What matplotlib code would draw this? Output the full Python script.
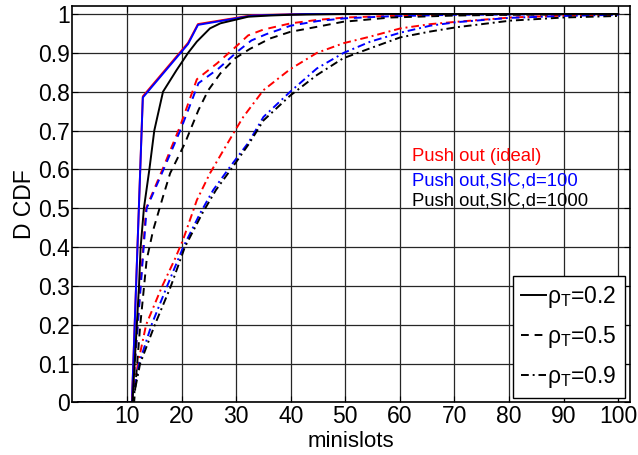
import matplotlib
matplotlib.use("Agg")
import matplotlib.pyplot as plt

plt.rcParams['font.family'] = ['Liberation Sans', 'DejaVu Sans']
plt.rcParams['mathtext.fontset'] = 'custom'
plt.rcParams['mathtext.rm'] = 'Liberation Sans'
plt.rcParams['mathtext.it'] = 'Liberation Sans'

# rho_T = 0.2 (solid)
x_ideal_02 = [1, 10.9, 12.9, 21.2, 23, 33, 43, 100]
y_ideal_02 = [0, 0, 0.788, 0.926, 0.974, 0.997, 1, 1]
x_d100_02 = [1, 10.9, 12.9, 21.2, 23, 33, 43, 100]
y_d100_02 = [0, 0, 0.785, 0.923, 0.972, 0.996, 1, 1]
x_d1000_02 = [1, 11.0, 12.2, 12.5, 13.1, 14.1, 15, 16.6, 19.1, 21.2, 22.8, 25.2, 27.1, 29.8, 32.2, 36, 40, 50, 100]
y_d1000_02 = [0, 0, 0.3, 0.4, 0.5, 0.6, 0.7, 0.8, 0.856, 0.9, 0.929, 0.963, 0.976, 0.985, 0.993, 0.996, 0.998, 1, 1]

# rho_T = 0.5 (dashed)
x_ideal_05 = [1, 10.9, 13.5, 16.5, 19.7, 22.8, 26.5, 29.8, 32.2, 35, 40, 45, 50, 58, 70, 100]
y_ideal_05 = [0, 0, 0.5, 0.6, 0.71, 0.832, 0.873, 0.914, 0.945, 0.96, 0.976, 0.985, 0.991, 0.995, 0.999, 1]
x_d100_05 = [1, 10.9, 13.6, 16.7, 19.9, 23.1, 26.8, 30.2, 32.8, 35.5, 40, 45, 50, 58, 70, 100]
y_d100_05 = [0, 0, 0.5, 0.6, 0.705, 0.822, 0.86, 0.903, 0.932, 0.948, 0.97, 0.982, 0.989, 0.994, 0.998, 1]
x_d1000_05 = [1, 11.3, 12.4, 13.0, 13.6, 14.8, 16.6, 17.9, 20.6, 23.1, 24.9, 27.1, 29.8, 32.5, 36.2, 39.9, 44.8, 49.6, 58.3, 70, 80, 100]
y_d1000_05 = [0, 0, 0.195, 0.281, 0.367, 0.444, 0.53, 0.59, 0.667, 0.753, 0.804, 0.847, 0.886, 0.91, 0.937, 0.954, 0.967, 0.98, 0.991, 0.996, 0.998, 1]

# rho_T = 0.9 (dash-dot)
x_ideal_09 = [1, 10.9, 12.0, 13.5, 16.4, 18.8, 20.3, 22.8, 25.2, 27.7, 29.8, 31.3, 35, 39.9, 44.8, 49.7, 54.6, 60.1, 65.6, 70.4, 80.3, 90, 100]
y_ideal_09 = [0, 0, 0.1, 0.2, 0.298, 0.37, 0.42, 0.521, 0.59, 0.65, 0.70, 0.735, 0.804, 0.858, 0.9, 0.925, 0.942, 0.963, 0.974, 0.98, 0.991, 0.996, 0.998]
x_d100_09 = [1, 10.9, 12.2, 14.5, 17.3, 20.3, 23.4, 25.8, 28.9, 32.3, 35, 39.9, 44.8, 49.7, 54.6, 60.1, 65.6, 70.4, 80, 90, 100]
y_d100_09 = [0, 0, 0.1, 0.2, 0.298, 0.4, 0.487, 0.547, 0.607, 0.67, 0.735, 0.80, 0.86, 0.90, 0.929, 0.952, 0.97, 0.979, 0.99, 0.995, 0.998]
x_d1000_09 = [1, 11.0, 12.4, 15.1, 18.0, 20.6, 23.8, 26.3, 29.4, 32.3, 35, 39.9, 44.8, 49.6, 54.6, 60.1, 65.6, 70.4, 80.3, 90, 100]
y_d1000_09 = [0, 0, 0.1, 0.2, 0.298, 0.4, 0.487, 0.547, 0.607, 0.665, 0.726, 0.79, 0.843, 0.886, 0.912, 0.94, 0.955, 0.966, 0.983, 0.991, 0.995]

x_ticks = [10, 20, 30, 40, 50, 60, 70, 80, 90, 100]
y_ticks = [0, 0.1, 0.2, 0.3, 0.4, 0.5, 0.6, 0.7, 0.8, 0.9, 1]
y_ticklabels = ['0', '0.1', '0.2', '0.3', '0.4', '0.5', '0.6', '0.7', '0.8', '0.9', '1']

fig = plt.figure(figsize=(6.38, 4.55), dpi=100)
ax = fig.add_axes([0.1135, 0.1154, 0.8735, 0.8714])

lw = 1.4
dash = (0, (4, 3))
dashdot = (0, (4, 2, 1, 2))
ax.plot(x_ideal_02, y_ideal_02, color='red', lw=lw, ls='-')
ax.plot(x_d100_02, y_d100_02, color='blue', lw=lw, ls='-')
ax.plot(x_ideal_05, y_ideal_05, color='red', lw=lw, ls=dash)
ax.plot(x_d100_05, y_d100_05, color='blue', lw=lw, ls=dash)
ax.plot(x_ideal_09, y_ideal_09, color='red', lw=lw, ls=dashdot)
ax.plot(x_d100_09, y_d100_09, color='blue', lw=lw, ls=dashdot)
ax.plot(x_d1000_02, y_d1000_02, color='black', lw=lw, ls='-', label=r'$\rho_T$=0.2')
ax.plot(x_d1000_05, y_d1000_05, color='black', lw=lw, ls=dash, label=r'$\rho_T$=0.5')
ax.plot(x_d1000_09, y_d1000_09, color='black', lw=lw, ls=dashdot, label=r'$\rho_T$=0.9')

ax.set_xlim(0, 102.1)
ax.set_ylim(0, 1.0206)
ax.set_xticks(x_ticks)
ax.set_yticks(y_ticks)
ax.set_yticklabels(y_ticklabels)
ax.tick_params(axis='x', direction='in', length=4, labelsize=16.5, top=True, pad=1.5)
ax.tick_params(axis='y', direction='in', length=4, labelsize=16.5, right=True, pad=2)
ax.grid(True, color='0.15', lw=0.9)
for s in ax.spines.values():
    s.set_linewidth(1.2)

ax.set_xlabel('minislots', fontsize=16, va='center')
ax.xaxis.set_label_coords(0.5, -0.099)
ax.set_ylabel('D CDF', fontsize=16.5, labelpad=1)

ax.text(62.3, 0.632, 'Push out (ideal)', color='red', fontsize=13.3, va='center')
ax.text(62.3, 0.571, 'Push out,SIC,d=100', color='blue', fontsize=13.3, va='center')
ax.text(62.3, 0.518, 'Push out,SIC,d=1000', color='black', fontsize=13.3, va='center')

leg = ax.legend(loc='lower right', fontsize=16.5, handlelength=1.1, handletextpad=0.05,
                labelspacing=0.6, borderaxespad=0.2, fancybox=False, framealpha=1,
                borderpad=0.35)
leg.get_frame().set_edgecolor('black')
leg.get_frame().set_linewidth(1.0)

fig.savefig('out.png', dpi=100)
